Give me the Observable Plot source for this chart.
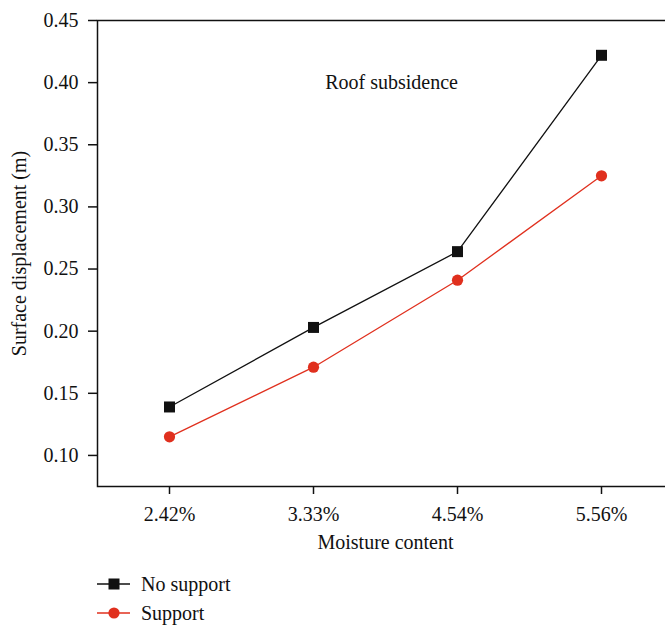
<!DOCTYPE html>
<html>
<head>
<meta charset="utf-8">
<script src="https://cdn.jsdelivr.net/npm/d3@7"></script>
<script src="https://cdn.jsdelivr.net/npm/@observablehq/plot@0.6"></script>
<style>
  html, body { margin: 0; padding: 0; background: #fff; overflow: hidden; }
  #wrap { position: relative; width: 665px; height: 626px; font-family: "Liberation Serif", "DejaVu Serif", serif; color: #111; }
  #legend { position: absolute; left: 0; top: 570px; font-size: 20px; }
  .row { position: absolute; left: 97px; height: 28px; display: flex; align-items: center; white-space: nowrap; }
  .row svg { display: block; margin-right: 10px; }
</style>
</head>
<body>
<div id="wrap">
  <div id="chart"></div>
  <div id="legend"></div>
</div>
<script>
// Moisture content categories and surface displacement (m)
const moisture = ["2.42%", "3.33%", "4.54%", "5.56%"];
const noSupport = [0.139, 0.203, 0.264, 0.422];
const support = [0.115, 0.171, 0.241, 0.325];
const yTicks = [0.10, 0.15, 0.20, 0.25, 0.30, 0.35, 0.40, 0.45];
const seriesNames = ["No support", "Support"];
const seriesColors = ["#111111", "#e0301e"];

const rows = [
  ...noSupport.map((v, i) => ({series: seriesNames[0], m: moisture[i], v})),
  ...support.map((v, i) => ({series: seriesNames[1], m: moisture[i], v}))
];
const rowsA = rows.filter(d => d.series === seriesNames[0]);
const rowsB = rows.filter(d => d.series === seriesNames[1]);

const chart = Plot.plot({
  width: 665,
  height: 560,
  marginLeft: 97,
  marginRight: -8,
  marginTop: 20,
  marginBottom: 74,
  style: {fontFamily: "'Liberation Serif', 'DejaVu Serif', serif", fontSize: "20px", color: "#111", overflow: "visible", background: "#fff"},
  x: {type: "point", domain: moisture, padding: 0.5},
  y: {domain: [0.075, 0.45]},
  color: {domain: seriesNames, range: seriesColors},
  marks: [
    Plot.frame({stroke: "#111", strokeWidth: 1.5}),
    Plot.axisY({ticks: yTicks, tickFormat: d3.format(".2f"), tickSize: 9, tickPadding: 10, strokeWidth: 1.5,
      label: "Surface displacement (m)", labelAnchor: "center", labelArrow: "none", labelOffset: 86}),
    Plot.axisX({tickSize: 8, tickPadding: 12, strokeWidth: 1.5,
      label: "Moisture content", labelAnchor: "center", labelArrow: "none", labelOffset: 62}),
    Plot.line(rows, {x: "m", y: "v", z: "series", stroke: "series", strokeWidth: 1.3}),
    Plot.dot(rowsA, {x: "m", y: "v", symbol: "square", r: 6.2, fill: seriesColors[0], stroke: "none"}),
    Plot.dot(rowsB, {x: "m", y: "v", symbol: "circle", r: 5.6, fill: seriesColors[1], stroke: "none"}),
    Plot.text([{m: "3.33%", v: 0.40}], {x: "m", y: "v", dx: 78, text: () => "Roof subsidence", fontSize: 20, fill: "#111"})
  ]
});
document.getElementById("chart").appendChild(chart);

// Legend below the plot
const legend = d3.select("#legend");
seriesNames.forEach((name, i) => {
  const row = legend.append("div").attr("class", "row").style("top", (i * 29) + "px");
  const svg = row.append("svg").attr("width", 34).attr("height", 28);
  svg.append("line").attr("x1", 0).attr("x2", 33).attr("y1", 14).attr("y2", 14)
    .attr("stroke", seriesColors[i]).attr("stroke-width", 1.3);
  if (i === 0) {
    svg.append("rect").attr("x", 11.5).attr("y", 8.5).attr("width", 11).attr("height", 11).attr("fill", seriesColors[i]);
  } else {
    svg.append("circle").attr("cx", 17).attr("cy", 14).attr("r", 5.6).attr("fill", seriesColors[i]);
  }
  row.append("span").text(name);
});
</script>
</body>
</html>
